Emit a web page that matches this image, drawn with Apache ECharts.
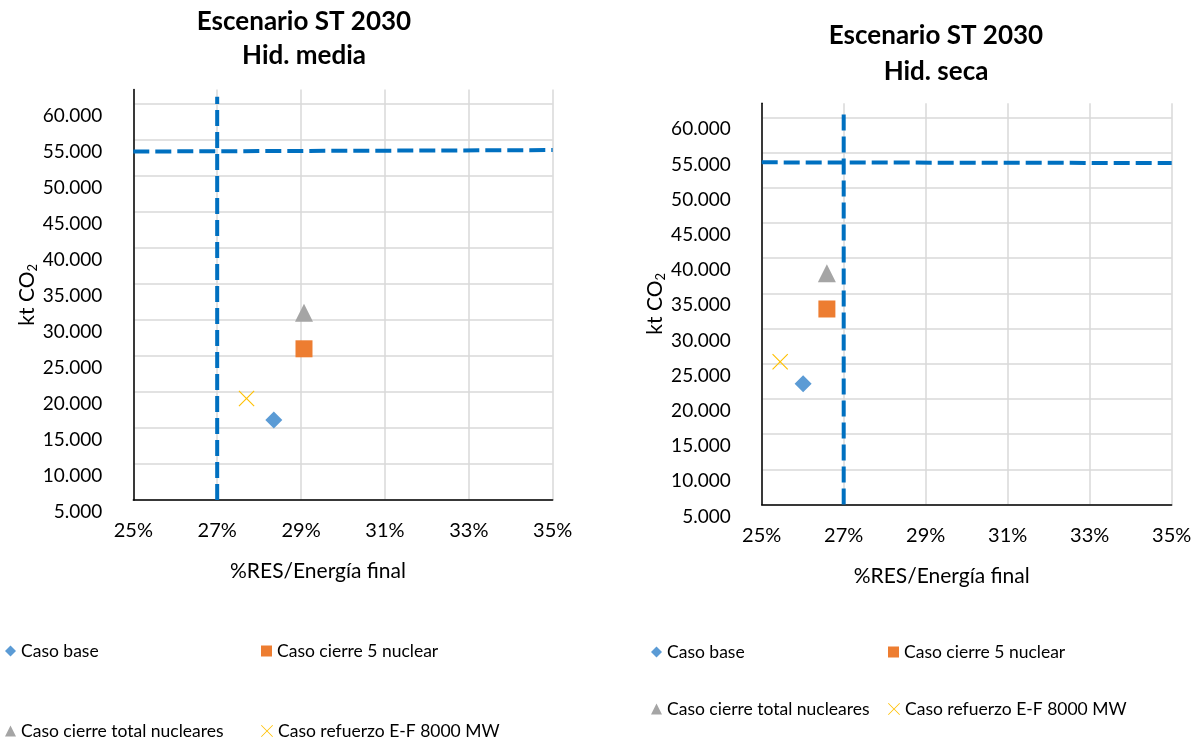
<!DOCTYPE html>
<html>
<head>
<meta charset="utf-8">
<title>Escenario ST 2030</title>
<script src="https://cdn.jsdelivr.net/npm/echarts@6/dist/echarts.min.js"></script>
<style>
  html, body { margin: 0; padding: 0; background: #fff; }
  #chart { width: 1200px; height: 742px; }
</style>
</head>
<body>
<div id="chart"></div>
<script>
// casos (legend names)
const casos = ['Caso base', 'Caso cierre 5 nuclear', 'Caso cierre total nucleares', 'Caso refuerzo E-F 8000 MW']

// Hid. media: %RES / kt CO2
const mediaRes = [28.35, 29.07, 29.07, 27.7]
const mediaCo2 = [16100, 26000, 31000, 19100]
// Hid. seca
const secaRes = [26.01, 26.59, 26.59, 25.45]
const secaCo2 = [22160, 32770, 37840, 25280]

// dashed reference lines (objetivo 27% RES, limite CO2)
const mediaLimResX = [27, 27]
const mediaLimResY = [5000, 61000]
const mediaLimCo2X = [25, 35]
const mediaLimCo2Y = [53400, 53600]
const secaLimResX = [27, 27]
const secaLimResY = [5000, 60700]
const secaLimCo2X = [25, 35]
const secaLimCo2Y = [53600, 53500]

// axis ranges
const xMin = 25, xMax = 35
const yMin = 5000, yMax = 62000, yStep = 5000

const FONT = 'Lato'
const X_PATH = 'path://M1,0 L10,9 L19,0 L20,1 L11,10 L20,19 L19,20 L10,11 L1,20 L0,19 L9,10 L0,1 Z'
const symbols = ['diamond', 'rect', 'triangle', X_PATH]
const colors = ['#5B9BD5', '#ED7D31', '#A5A5A5', '#FFC000']
const sizes = [17, 17, 18, 16]

const zip = (xs, ys) => xs.map((x, i) => [x, ys[i]])

function axesFor(idx) {
  const xAxis = {
    type: 'value', gridIndex: idx, min: xMin, max: xMax, interval: 1,
    // trailing empty block pushes the name a bit left of the plot centre, like the original
    name: '%RES/Energía final{gap|}', nameLocation: 'middle', nameGap: 61,
    nameTextStyle: {
      fontFamily: FONT, fontSize: 21, color: '#000',
      rich: { gap: { width: 50 } }
    },
    axisLine: { show: true, lineStyle: { color: '#000', width: 1.5 } },
    axisTick: { show: false },
    axisLabel: {
      fontFamily: FONT, fontSize: 20, color: '#000', margin: 21,
      formatter: v => (v % 2 === 1 ? v + '%' : '')
    },
    // only odd percents get a grid line
    splitLine: { show: true, lineStyle: { color: ['#D9D9D9', 'rgba(0,0,0,0)'], width: 1.5 } }
  }
  const yAxis = {
    type: 'value', gridIndex: idx, min: yMin, max: yMax, interval: yStep,
    name: 'kt CO{s|2}', nameLocation: 'middle', nameGap: 92,
    nameTextStyle: {
      fontFamily: FONT, fontSize: 21, color: '#000',
      rich: { s: { fontFamily: FONT, fontSize: 13, color: '#000', padding: [10, 0, 0, 0] } }
    },
    axisLine: { show: true, lineStyle: { color: '#000', width: 1.5 } },
    axisTick: { show: false },
    axisLabel: {
      fontFamily: FONT, fontSize: 19, color: '#000', margin: 31,
      verticalAlign: 'top', lineHeight: 24, showMaxLabel: false,
      formatter: v => (v % yStep === 0 ? (v / 1000).toFixed(3) : '')
    },
    splitLine: { show: true, showMaxLine: false, lineStyle: { color: '#D9D9D9', width: 1.5 } }
  }
  return [xAxis, yAxis]
}

function seriesFor(idx, res, co2, limResX, limResY, limCo2X, limCo2Y) {
  const dash = {
    type: 'line', xAxisIndex: idx, yAxisIndex: idx, showSymbol: false, silent: true,
    lineStyle: { color: '#0070C0', width: 4, type: [16, 6] }, z: 1
  }
  const out = [
    Object.assign({}, dash, { data: zip(limResX, limResY) }),
    Object.assign({}, dash, { data: zip(limCo2X, limCo2Y) })
  ]
  casos.forEach((name, i) => {
    out.push({
      name, type: 'scatter', xAxisIndex: idx, yAxisIndex: idx,
      symbol: symbols[i], symbolSize: sizes[i], symbolKeepAspect: true,
      itemStyle: { color: colors[i], opacity: 1 },
      data: [[res[i], co2[i]]], z: 3
    })
  })
  return out
}

const [x0, y0] = axesFor(0)
const [x1, y1] = axesFor(1)

// legend slots: [left, centerY]
const legendSlots = [
  [[5, 651], [261, 651], [5, 731], [261, 731]],
  [[651, 652], [888, 652], [651, 709], [888, 709]]
]
const legendIcon = [11, 11, 11, 12]
const legends = []
legendSlots.forEach(slots => {
  slots.forEach((pos, i) => {
    legends.push({
      data: [casos[i]], left: pos[0], top: pos[1] - 9, padding: 0,
      itemWidth: legendIcon[i], itemHeight: legendIcon[i], itemGap: 0,
      selectedMode: false,
      textStyle: { fontFamily: FONT, fontSize: 17.5, color: '#000' }
    })
  })
})

const chart = echarts.init(document.getElementById('chart'), null, { renderer: 'canvas' })
chart.setOption({
  backgroundColor: '#fff',
  animation: false,
  title: [
    {
      text: 'Escenario ST 2030\nHid. media', left: 304, top: 5, textAlign: 'center', padding: 0,
      textStyle: { fontFamily: FONT, fontSize: 26, fontWeight: 'bold', color: '#000', lineHeight: 34 }
    },
    {
      text: 'Escenario ST 2030\nHid. seca', left: 936, top: 18, textAlign: 'center', padding: 0,
      textStyle: { fontFamily: FONT, fontSize: 26, fontWeight: 'bold', color: '#000', lineHeight: 36 }
    }
  ],
  legend: legends,
  grid: [
    { left: 133.3, right: 647.3, top: 89.6, bottom: 242 },
    { left: 761.7, right: 28.3, top: 103.2, bottom: 237.5 }
  ],
  xAxis: [x0, x1],
  yAxis: [y0, y1],
  series: [].concat(
    seriesFor(0, mediaRes, mediaCo2, mediaLimResX, mediaLimResY, mediaLimCo2X, mediaLimCo2Y),
    seriesFor(1, secaRes, secaCo2, secaLimResX, secaLimResY, secaLimCo2X, secaLimCo2Y)
  )
})
</script>
</body>
</html>
